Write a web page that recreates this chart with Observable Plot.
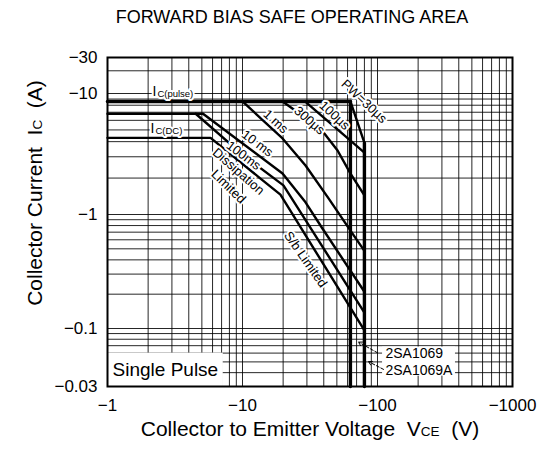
<!DOCTYPE html>
<html><head><meta charset="utf-8">
<script src="https://cdn.jsdelivr.net/npm/d3@7"></script>
<script src="https://cdn.jsdelivr.net/npm/@observablehq/plot@0.6"></script>
<style>
body{margin:0;background:#fff;font-family:"Liberation Sans",Arial,sans-serif;color:#000;}
#wrap{position:relative;width:551px;height:452px;overflow:hidden;}
#title{position:absolute;left:292px;top:6px;transform:translateX(-50%);white-space:nowrap;font-size:18px;line-height:22px;}
#chart{position:absolute;left:0;top:36px;}
#ytitle{position:absolute;left:36px;top:193px;transform:translate(-50%,-50%) rotate(-90deg);white-space:nowrap;font-size:21px;line-height:22px;}
#xtitle{position:absolute;left:310px;top:430px;transform:translate(-50%,-50%);white-space:nowrap;font-size:21px;line-height:22px;}
.sub{font-size:13.5px;}
</style></head><body>
<div id="wrap">
<div id="title">FORWARD BIAS SAFE OPERATING AREA</div>
<div id="chart"></div>
<div id="ytitle">Collector Current&nbsp;&nbsp;I<span class="sub">C</span>&nbsp;&nbsp;(A)</div>
<div id="xtitle">Collector to Emitter Voltage&nbsp;&nbsp;V<span class="sub">CE</span>&nbsp;&nbsp;(V)</div>
</div>
<script>
// ---- axis ticks ----
const xTicks = [-1, -10, -100, -1000];
const yTicks = [-30, -10, -1, -0.1, -0.03];

// ---- curves (VCE in V, IC in A) ----
const pulseV = [-1, -63];            const pulseI = [-8.6, -8.6];
const pw30V  = [-63, -80];           const pw30I  = [-8.6, -3.9];
const us100V = [-29, -80];           const us100I = [-8.6, -3.25];
const us300V = [-19.8, -37.8, -50.6, -63.1, -80];        const us300I = [-8.6, -5.14, -3.38, -2.18, -1.44];
const ms1V   = [-10, -19.8, -29.3, -43.4, -65.3, -80];   const ms1I   = [-8.6, -4.25, -2.54, -1.36, -0.68, -0.48];
const ms10V  = [-1, -5.1, -19.8, -29.3, -39.1, -80];     const ms10I  = [-6.8, -6.8, -2.18, -1.26, -0.754, -0.21];
const ms100V = [-4.5, -10.2, -20.1, -80];                const ms100I = [-6.8, -3.07, -1.74, -0.138];
const dcV    = [-1, -5.8, -13.6, -19.1, -80];            const dcI    = [-4.3, -4.3, -1.98, -1.46, -0.096];
const vceoAV = [-63, -63];           const vceoAI = [-8.6, -0.03];
const vceoBV = [-80, -80];           const vceoBI = [-3.9, -0.03];

// ---- labels ----
const curveLabels = ["1 ms", "300µs", "100µs", "PW=30µs", "10 ms", "100ms", "Dissipation", "Limited", "S/b Limited"];
const curveLabelV = [-17.6, -31.3, -48, -79.6, -12.9, -10.2, -9.34, -7.87, -29.3];
const curveLabelI = [-5.87, -5.98, -6.58, -8.6, -3.86, -3.07, -2.27, -1.70, -0.403];
const curveLabelRot = [42, 41, 43, 43, 37, 37, 41, 44, 55];
const partLabels = ["2SA1069", "2SA1069A"];
const partLabelV = [-114.6, -114.6];
const partLabelI = [-0.059, -0.042];
const arrowFromV = [-100, -110.8]; const arrowFromI = [-0.0604, -0.0428];
const arrowToV   = [-72.3, -85.8];  const arrowToI   = [-0.0754, -0.0503];
const icLabelMain = ["I", "I"];
const icLabelSub = ["C(pulse)", "C(DC)"];
const icLabelV = [-2.15, -2.08];
const icLabelI = [-10.6, -5.14];
const boxX1 = [-1, -109]; const boxX2 = [-7.2, -378];
const boxY1 = [-0.03, -0.0372]; const boxY2 = [-0.06, -0.068];

// ---- grid values (standard log grid) ----
const xGrid = [];
for (const d of [1, 10, 100]) for (let k = 1; k <= 9; k++) xGrid.push(-k * d);
xGrid.push(-1000);
const yGrid = [];
for (const d of [0.01, 0.1, 1, 10]) for (let k = 1; k <= 9; k++) {
  const v = +(k * d).toPrecision(3);
  if (v >= 0.03 && v <= 30) yGrid.push(-v);
}

const series = (name, V, I) => V.map((v, i) => ({name, v, i: I[i]}));
const thin = [
  ...series("pw30", pw30V, pw30I), ...series("100us", us100V, us100I),
  ...series("300us", us300V, us300I), ...series("1ms", ms1V, ms1I),
  ...series("10ms", ms10V, ms10I), ...series("100ms", ms100V, ms100I),
  ...series("dc", dcV, dcI)
];
const thick = [...series("pulse", pulseV, pulseI), ...series("vA", vceoAV, vceoAI), ...series("vB", vceoBV, vceoBI)];
const labels = curveLabels.map((t, k) => ({t, v: curveLabelV[k], i: curveLabelI[k], r: curveLabelRot[k]}));
const parts = partLabels.map((t, k) => ({t, v: partLabelV[k], i: partLabelI[k]}));
const arrows = arrowFromV.map((v, k) => ({x1: v, y1: arrowFromI[k], x2: arrowToV[k], y2: arrowToI[k]}));
const icl = icLabelMain.map((t, k) => ({t, s: icLabelSub[k], v: icLabelV[k], i: icLabelI[k]}));
const boxes = boxX1.map((v, k) => ({x1: v, x2: boxX2[k], y1: boxY1[k], y2: boxY2[k]}));

const fmt = d => "\u2212" + Math.abs(d);
const halo = {fill: "black", stroke: "white", strokeWidth: 4, fontFamily: "Liberation Sans"};

const chart = Plot.plot({
  width: 551, height: 416,
  marginLeft: 107, marginRight: 39, marginTop: 21, marginBottom: 66,
  style: {fontFamily: "Liberation Sans, Arial, sans-serif", fontSize: "17px", color: "black", background: "white"},
  x: {type: "log", domain: [-1, -1000], ticks: xTicks, tickFormat: fmt, tickSize: 0, tickPadding: 12, label: null},
  y: {type: "log", domain: yTicks, range: [21, 57, 178, 292, 350], ticks: yTicks, tickFormat: fmt, tickSize: 0, tickPadding: 10, label: null},
  marks: [
    Plot.ruleX(xGrid, {stroke: "black", strokeWidth: 1, strokeOpacity: 0.85}),
    Plot.ruleY(yGrid, {stroke: "black", strokeWidth: 1, strokeOpacity: 0.85}),
    Plot.rect(boxes, {x1: "x1", x2: "x2", y1: "y1", y2: "y2", fill: "white"}),
    Plot.line(thin, {x: "v", y: "i", z: "name", stroke: "black", strokeWidth: 2.4, curve: "linear"}),
    Plot.line(thick, {x: "v", y: "i", z: "name", stroke: "black", strokeWidth: 3.4}),
    Plot.text(labels, {x: "v", y: "i", text: "t", rotate: "r", fontSize: 13, ...halo}),
    Plot.text(icl, {x: "v", y: "i", text: "t", textAnchor: "start", fontSize: 14, ...halo}),
    Plot.text(icl, {x: "v", y: "i", text: "s", textAnchor: "start", dx: 5, dy: 2, fontSize: 9.5, ...halo}),
    Plot.text(parts, {x: "v", y: "i", text: "t", textAnchor: "start", fontSize: 14, fill: "black", fontFamily: "Liberation Sans"}),
    Plot.arrow(arrows, {x1: "x1", y1: "y1", x2: "x2", y2: "y2", stroke: "black", strokeWidth: 1, strokeDasharray: "3,2", headLength: 6}),
    Plot.text(["Single Pulse"], {x: -1.09, y: -0.042, text: d => d, textAnchor: "start", fontSize: 19, fill: "black", fontFamily: "Liberation Sans"}),
    Plot.frame({stroke: "black", strokeWidth: 2})
  ]
});
document.getElementById("chart").appendChild(chart);
</script>
</body></html>
